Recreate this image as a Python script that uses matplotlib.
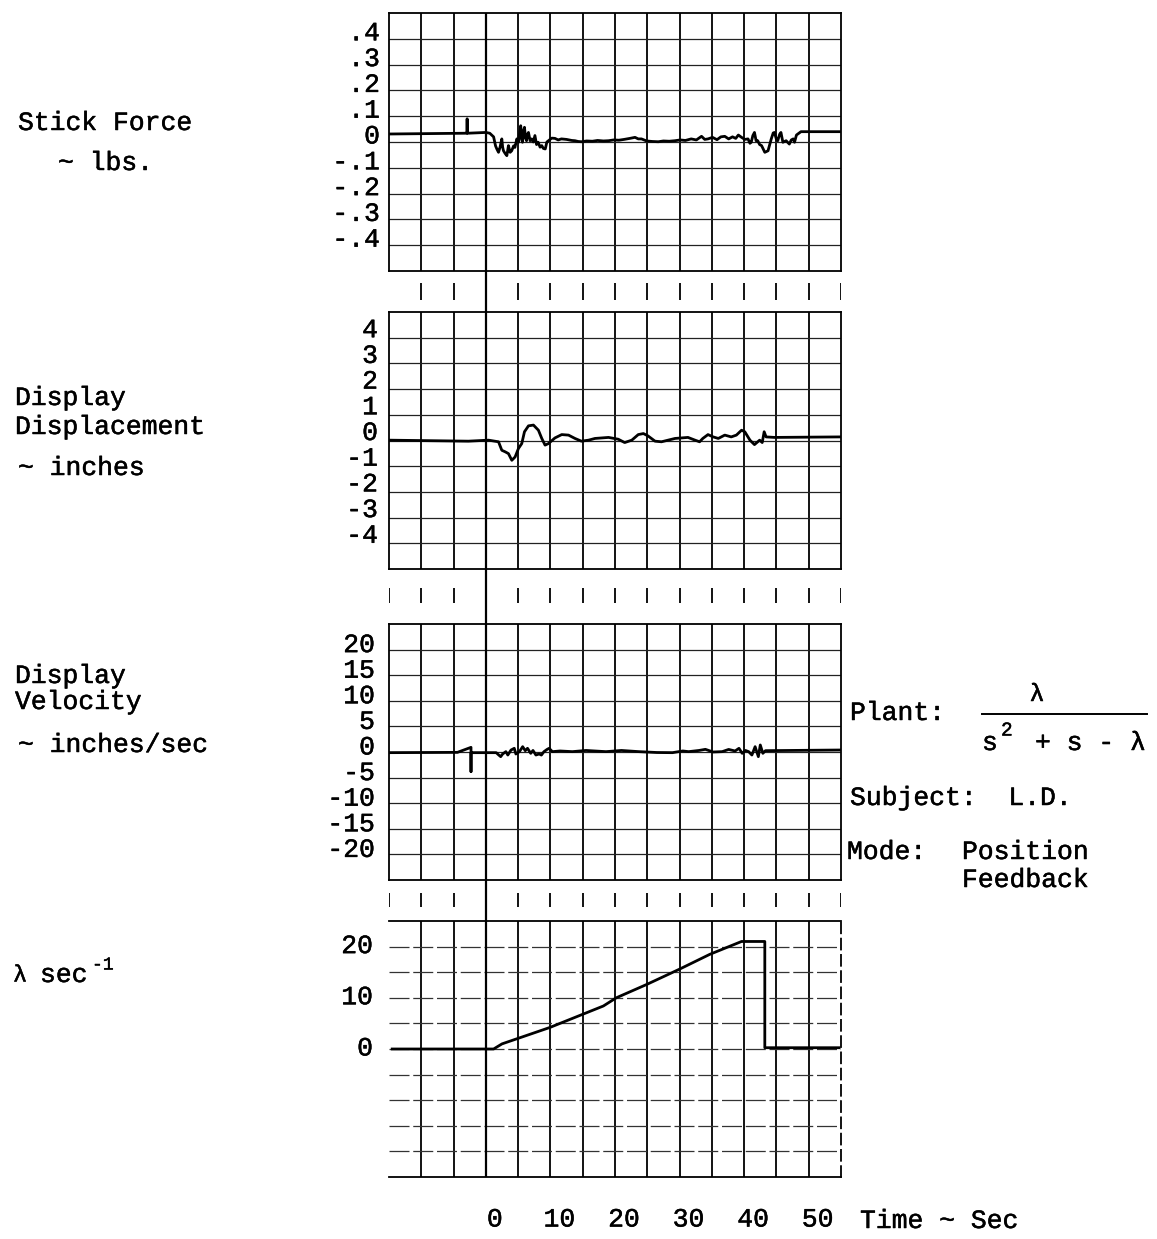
import numpy as np
import matplotlib
matplotlib.use("Agg")
import matplotlib.pyplot as plt
import matplotlib.patheffects as pe
from matplotlib.transforms import ScaledTranslation

plt.rcParams['font.family'] = ['Liberation Mono', 'DejaVu Sans Mono', 'DejaVu Sans']

# ---- data (time in sec) ----
force_t = [-15, -3.2, -2.95, -2.9, -2.85, 0.0, 0.6, 1.2, 1.5, 1.7, 1.96, 2.2, 2.47, 2.6, 2.73,
           3.0, 3.25, 3.5, 3.76, 4.0, 4.3, 4.5, 4.8, 5.05, 5.2, 5.4, 5.55, 5.67, 5.85, 5.98,
           6.15, 6.3, 6.45, 6.6, 6.85, 7.1, 7.35, 7.6, 7.85, 8.1, 8.4, 8.66, 8.9, 9.2, 9.45,
           9.7, 10.2, 10.7, 11.2, 11.7, 12.5, 13.3, 13.8, 14.3, 14.8, 15.6, 16.5, 17.3, 18.2,
           19.0, 19.8, 20.6, 21.4, 22.3, 23.1, 23.6, 24.1, 24.9, 25.8, 26.7, 27.5, 28.4, 29.3,
           30.1, 30.9, 31.8, 32.6, 33.4, 33.9, 34.4, 35.1, 35.8, 36.4, 37.0, 37.6, 38.2, 38.7,
           39.1, 39.6, 40.1, 40.6, 40.9, 41.1, 41.35, 41.6, 41.85, 42.1, 42.4, 42.7, 43.2,
           43.7, 44.2, 44.5, 44.7, 45.0, 45.2, 45.5, 45.7, 46.0, 46.5, 47.0, 47.3, 47.6, 47.8,
           48.1, 48.8, 55]
force_v = [0.031, 0.034, 0.034, 0.09, 0.034, 0.037, 0.034, 0.02, -0.015, -0.027, -0.04, -0.02,
           0.012, -0.02, -0.034, -0.045, -0.053, -0.014, -0.04, -0.034, -0.015, -0.021, 0.012,
           -0.001, 0.03, 0.063, 0.01, -0.001, 0.045, 0.057, 0.015, 0.005, 0.03, 0.037, 0.005,
           0.012, 0.0, 0.025, -0.01, -0.001, -0.02, -0.014, -0.025, -0.027, 0.0, 0.005, 0.015,
           0.014, 0.008, 0.012, 0.01, 0.006, 0.005, 0.002, 0.001, 0.004, 0.003, 0.006, 0.004,
           0.005, 0.008, 0.007, 0.01, 0.014, 0.018, 0.012, 0.012, 0.004, 0.002, 0.001, 0.004,
           0.003, 0.005, 0.008, 0.006, 0.012, 0.008, 0.022, 0.01, 0.012, 0.018, 0.009, 0.02,
           0.022, 0.012, 0.02, 0.014, 0.027, 0.018, 0.01, 0.012, -0.005, -0.001, 0.025, 0.037,
           0.005, 0.005, -0.01, -0.014, -0.04, -0.034, 0.012, 0.035, 0.037, 0.01, 0.005, 0.03,
           0.037, -0.001, 0.005, -0.008, 0.008, 0.012, -0.001, 0.027, 0.04, 0.04]

disp_t = [-15, -2.7, 0.41, 1.96, 2.47, 2.99, 3.5, 4.02, 4.53, 5.05, 5.56, 5.98, 6.6, 7.37, 8.14,
          8.66, 9.17, 9.69, 10.7, 11.75, 12.8, 13.8, 14.8, 15.9, 16.9, 19.0, 20.5, 21.5, 22.6,
          23.6, 24.4, 25.1, 26.2, 27.2, 29.3, 31.3, 32.4, 33.1, 33.6, 34.4, 35.2, 36.0, 37.0,
          38.0, 38.8, 39.6, 40.1, 40.9, 41.6, 42.4, 42.8, 43.1, 43.4, 44.7, 55]
disp_v = [0.013, -0.026, 0.013, -0.05, -0.38, -0.44, -0.51, -0.77, -0.64, -0.31, -0.12, 0.34,
          0.57, 0.60, 0.40, 0.08, -0.18, -0.12, 0.10, 0.23, 0.21, 0.08, -0.026, 0.013, 0.08,
          0.12, 0.05, -0.08, 0.013, 0.23, 0.27, 0.18, -0.026, -0.05, 0.08, 0.12, 0.013, -0.05,
          0.08, 0.23, 0.14, 0.08, 0.21, 0.14, 0.21, 0.40, 0.34, 0.013, -0.16, 0.013, -0.08,
          0.34, 0.14, 0.12, 0.14]

vel_t = [-15, -4.4, -2.3, -2.3, -2.3, 1.6, 2.0, 2.3, 2.6, 3.1, 3.4, 3.9, 4.4, 4.65, 5.2, 5.7,
         6.1, 6.45, 6.95, 7.3, 7.75, 8.25, 8.6, 9.0, 9.5, 9.8, 10.3, 11.5, 13.4, 15.5, 18.6,
         21.0, 23.7, 26.5, 28.9, 30.5, 31.4, 33.0, 34.0, 35.2, 36.6, 37.6, 38.6, 39.2, 39.7,
         40.2, 40.7, 41.2, 41.7, 42.2, 42.5, 42.9, 43.3, 55]
vel_v = [-0.13, -0.07, 0.91, -3.84, -0.13, -0.13, -0.59, -0.91, -0.39, 0.07, -0.59, 0.39, 0.72,
         -0.39, 0.07, 1.04, 0.26, 0.72, -0.26, 0.3, -0.59, -0.39, -0.6, 0.07, 0.52, 0.72, 0.07,
         0.2, 0.07, 0.3, 0.07, 0.3, 0.07, -0.1, -0.13, 0.2, 0.07, 0.3, 0.52, 0.0, 0.07, 0.5,
         0.2, 0.72, -0.26, 0.3, 0.07, -0.59, 1.04, -0.91, 1.37, -0.26, 0.26, 0.39]

lam_t = [-14.5, 1.2, 2.5, 9.9, 18.2, 20.2, 24.9, 30.0, 34.7, 39.6, 43.2, 43.2, 54.7]
lam_v = [0, 0, 1.0, 4.2, 8.4, 10.0, 12.6, 15.6, 18.5, 21.0, 21.0, 0.25, 0.25]

force_ticks = [0.4, 0.3, 0.2, 0.1, 0, -0.1, -0.2, -0.3, -0.4]
force_labels = ['.4', '.3', '.2', '.1', '0', '-.1', '-.2', '-.3', '-.4']
disp_ticks = [4, 3, 2, 1, 0, -1, -2, -3, -4]
disp_labels = ['4', '3', '2', '1', '0', '-1', '-2', '-3', '-4']
vel_ticks = [20, 15, 10, 5, 0, -5, -10, -15, -20]
vel_labels = ['20', '15', '10', '5', '0', '-5', '-10', '-15', '-20']
lam_ticks = [20, 10, 0]
lam_labels = ['20', '10', '0']
time_ticks = [0, 10, 20, 30, 40, 50]
time_labels = ['0', '10', '20', '30', '40', '50']

W, H = 1157, 1239
FS = 19
# typewriter ink is a little heavier than Liberation Mono
INK = [pe.withStroke(linewidth=0.35, foreground='k')]
fig = plt.figure(figsize=(W / 100, H / 100), dpi=100)


def px_box(left, top, right, bottom):
    return [left / W, 1 - bottom / H, (right - left) / W, (bottom - top) / H]


# panels: (top, bottom, ylim, ticks, labels, label shift px, pad px, t, v)
panels = [
    (13, 271, (-0.5, 0.5), force_ticks, force_labels, 8, 9, force_t, force_v),
    (312, 569, (-5, 5), disp_ticks, disp_labels, 10, 11, disp_t, disp_v),
    (624, 880, (-25, 25), vel_ticks, vel_labels, 7, 14, vel_t, vel_v),
    (921, 1177, (-25, 25), lam_ticks, lam_labels, 3, 16, lam_t, lam_v),
]

axes = []
for i, (top, bot, ylim, yt, yl, shift, pad, tt, vv) in enumerate(panels):
    ax = fig.add_axes(px_box(389, top, 841, bot))
    ax.xaxis.remove_overlapping_locs = False
    ax.yaxis.remove_overlapping_locs = False
    ax.set_xlim(-15, 55)
    ax.set_ylim(*ylim)
    ax.set_xticks(np.arange(-10, 55, 5), minor=True)
    ax.set_yticks(np.linspace(ylim[0], ylim[1], 11)[1:-1], minor=True)
    ax.grid(which='minor', axis='x', color='k', lw=1.3)
    if i == 3:
        ax.grid(which='minor', axis='y', color='#333333', lw=0.9, ls=(0, (16, 3)))
    else:
        ax.grid(which='minor', axis='y', color='#222222', lw=0.9)
    ax.tick_params(which='both', length=0)
    ax.set_yticks(yt)
    ax.set_yticklabels(yl, fontsize=FS)
    ax.tick_params(axis='y', pad=pad * 0.72)
    off = ScaledTranslation(0, shift / 100, fig.dpi_scale_trans)
    for lab in ax.get_yticklabels():
        lab.set_transform(lab.get_transform() + off)
        lab.set_path_effects(INK)
    ax.set_xticks([])
    for s in ax.spines.values():
        s.set_linewidth(1.3)
    ax.plot(tt, vv, color='k', lw=2.0, zorder=5)
    axes.append(ax)

ax4 = axes[3]
ax4.spines['left'].set_visible(False)
ax4.spines['right'].set_linestyle((0, (6, 3)))
ax4.set_xticks(time_ticks)
ax4.set_xticklabels(time_labels, fontsize=FS)
ax4.tick_params(axis='x', length=0, pad=22)
xoff = ScaledTranslation(9 / 100, 0, fig.dpi_scale_trans)
for lab in ax4.get_xticklabels():
    lab.set_transform(lab.get_transform() + xoff)
    lab.set_path_effects(INK)

# overlay with chart-paper time marks and the t = 0 line
ov = fig.add_axes(px_box(389, 0, 841, H))
ov.set_xlim(-15, 55)
ov.set_ylim(H, 0)
ov.axis('off')
ov.vlines(0, 13, 1177, color='k', lw=1.6)
marks = [t for t in range(-10, 56, 5) if t != 0]
ov.vlines(marks, 283, 300, color='k', lw=1.3)
marks2 = [t for t in range(-15, 56, 5) if t != 0]
ov.vlines(marks2, 588, 603, color='k', lw=1.3)
ov.vlines(marks2, 893, 907, color='k', lw=1.3)

# page text in pixel coordinates
pg = fig.add_axes([0, 0, 1, 1], zorder=-1)
pg.set_xlim(0, W)
pg.set_ylim(H, 0)
pg.axis('off')
kw = dict(fontsize=FS, va='center', ha='left', path_effects=INK)
pg.text(18, 123, 'Stick Force', **kw)
pg.text(58, 163, '~ lbs.', **kw)
pg.text(15, 398, 'Display', **kw)
pg.text(15, 427, 'Displacement', **kw)
pg.text(18, 468, '~ inches', **kw)
pg.text(15, 676, 'Display', **kw)
pg.text(15, 702, 'Velocity', **kw)
pg.text(18, 745, '~ inches/sec', **kw)
pg.text(13, 975, 'λ', fontsize=17, va='center', ha='left', path_effects=INK)
pg.text(40, 975, 'sec', **kw)
pg.text(92, 965, '-1', fontsize=13, va='center', ha='left', path_effects=INK)

pg.text(850, 713, 'Plant:', **kw)
pg.text(1037, 694, 'λ', fontsize=18, va='center', ha='center', path_effects=INK)
pg.plot([982, 1147], [714, 714], color='k', lw=1.4)
pg.text(982, 743, 's', **kw)
pg.text(1001, 731, '2', fontsize=14, va='center', ha='left', path_effects=INK)
pg.text(1035, 743, '+ s - λ', **kw)
pg.text(850, 798, 'Subject:  L.D.', **kw)
pg.text(847, 852, 'Mode:', **kw)
pg.text(962, 852, 'Position', **kw)
pg.text(962, 880, 'Feedback', **kw)
pg.text(860, 1221, 'Time ~ Sec', **kw)

fig.savefig('out.png', dpi=100)
